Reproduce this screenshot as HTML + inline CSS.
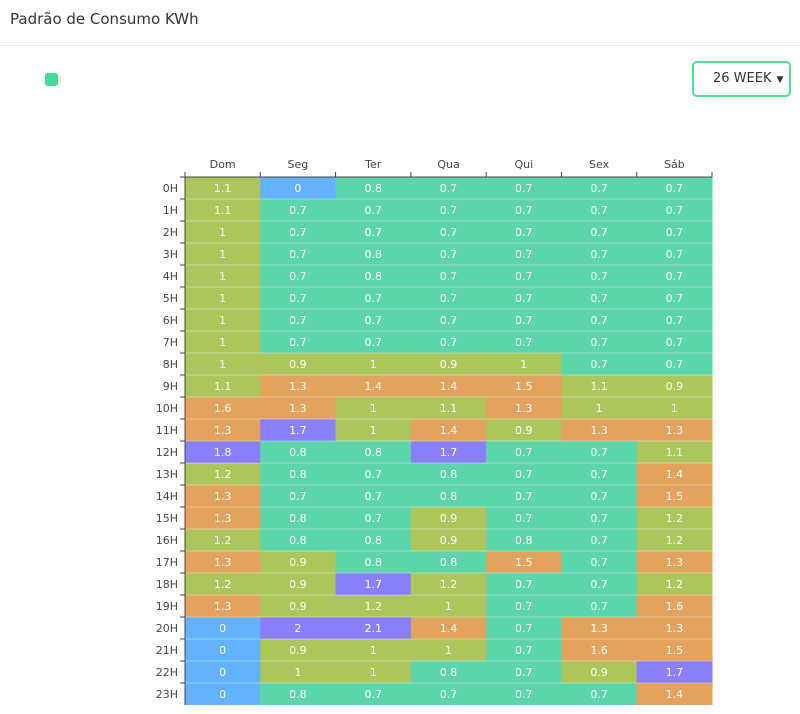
<!DOCTYPE html>
<html><head><meta charset="utf-8"><style>
body{margin:0;width:800px;height:714px;background:#fff;font-family:"DejaVu Sans","Liberation Sans",sans-serif;overflow:hidden;position:relative}
#title{position:absolute;left:10px;top:10px;font-size:15px;color:#333}
#hr{position:absolute;left:0;top:45px;width:800px;height:1px;background:#e8e8e8}
#legend{position:absolute;left:45px;top:73px;width:13px;height:13px;border-radius:3px;background:#3ddc97}
#btn{position:absolute;left:692px;top:61px;width:99px;height:36px;box-sizing:border-box;border:2px solid #4fe08f;border-radius:5px;font-size:13px;color:#333;line-height:32px;padding-left:19px}
#btn span{font-size:9px;margin-left:5px}
svg{position:absolute;left:0;top:0}
</style></head><body>
<div id="title">Padrão de Consumo KWh</div>
<div id="hr"></div>
<div id="legend"></div>
<div id="btn">26 WEEK<span>▼</span></div>
<svg id="chart" width="800" height="714"></svg>
<script>
const days=["Dom","Seg","Ter","Qua","Qui","Sex","Sáb"];
const hours=["0H","1H","2H","3H","4H","5H","6H","7H","8H","9H","10H","11H","12H","13H","14H","15H","16H","17H","18H","19H","20H","21H","22H","23H"];
const values=[
[1.1,0,0.8,0.7,0.7,0.7,0.7],
[1.1,0.7,0.7,0.7,0.7,0.7,0.7],
[1,0.7,0.7,0.7,0.7,0.7,0.7],
[1,0.7,0.8,0.7,0.7,0.7,0.7],
[1,0.7,0.8,0.7,0.7,0.7,0.7],
[1,0.7,0.7,0.7,0.7,0.7,0.7],
[1,0.7,0.7,0.7,0.7,0.7,0.7],
[1,0.7,0.7,0.7,0.7,0.7,0.7],
[1,0.9,1,0.9,1,0.7,0.7],
[1.1,1.3,1.4,1.4,1.5,1.1,0.9],
[1.6,1.3,1,1.1,1.3,1,1],
[1.3,1.7,1,1.4,0.9,1.3,1.3],
[1.8,0.8,0.8,1.7,0.7,0.7,1.1],
[1.2,0.8,0.7,0.8,0.7,0.7,1.4],
[1.3,0.7,0.7,0.8,0.7,0.7,1.5],
[1.3,0.8,0.7,0.9,0.7,0.7,1.2],
[1.2,0.8,0.8,0.9,0.8,0.7,1.2],
[1.3,0.9,0.8,0.8,1.5,0.7,1.3],
[1.2,0.9,1.7,1.2,0.7,0.7,1.2],
[1.3,0.9,1.2,1,0.7,0.7,1.6],
[0,2,2.1,1.4,0.7,1.3,1.3],
[0,0.9,1,1,0.7,1.6,1.5],
[0,1,1,0.8,0.7,0.9,1.7],
[0,0.8,0.7,0.7,0.7,0.7,1.4]];
const X0=185,X1=712,Y0=177,Y1=705;
const cw=(X1-X0)/days.length, rh=(Y1-Y0)/hours.length;
const xs=i=>X0+i*cw, ys=j=>Y0+j*rh;
function color(v){if(v<0.5)return"#64b2fd";if(v<0.85)return"#5cd5ab";if(v<1.25)return"#adc65c";if(v<1.65)return"#e3a35f";return"#8a80fc";}
const svg=document.getElementById('chart');const NS="http://www.w3.org/2000/svg";
function mk(t,a){const e=document.createElementNS(NS,t);for(const k in a)e.setAttribute(k,a[k]);svg.appendChild(e);return e;}
values.forEach((row,j)=>row.forEach((v,i)=>{
 const r=mk('rect',{x:xs(i),y:ys(j),width:cw+0.5,height:rh,fill:color(v)});
 
 
 const t=mk('text',{x:xs(i)+cw/2,y:ys(j)+rh/2+4,'text-anchor':'middle','font-size':11,fill:'#fff'});
 t.textContent=v;
 
 
}));
for(let j=1;j<hours.length;j++){const l=mk('line',{x1:X0,x2:X1,y1:ys(j),y2:ys(j),stroke:'rgba(255,255,255,0.35)','stroke-width':1});}
mk('line',{x1:X0,x2:X0,y1:Y0,y2:Y1,stroke:'#444'});
mk('line',{x1:X0,x2:X1,y1:Y0,y2:Y0,stroke:'#444'});
days.forEach((d,i)=>{
 const tk=mk('line',{x1:xs(i),x2:xs(i),y1:Y0-5,y2:Y0,stroke:'#444'});
 
 
 const t=mk('text',{x:xs(i)+cw/2,y:Y0-9,'text-anchor':'middle','font-size':11,fill:'#444'});
 t.textContent=d;
 
 
});
mk('line',{x1:X1,x2:X1,y1:Y0-5,y2:Y0,stroke:'#444'});
hours.forEach((h,j)=>{
 const tk=mk('line',{x1:X0-5,x2:X0,y1:ys(j),y2:ys(j),stroke:'#444'});
 
 
 const t=mk('text',{x:X0-7,y:ys(j)+rh/2+4,'text-anchor':'end','font-size':11,fill:'#444'});
 t.textContent=h;
 
 
});
</script>
</body></html>
